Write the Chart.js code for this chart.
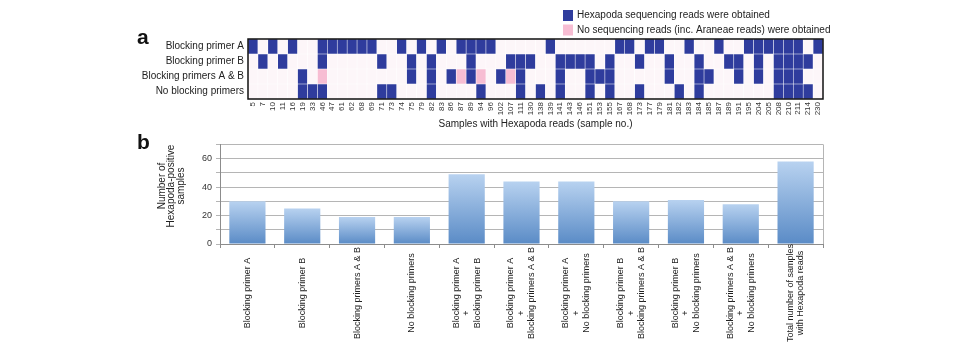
<!DOCTYPE html>
<html>
<head>
<meta charset="utf-8">
<script src="https://cdn.jsdelivr.net/npm/chart.js@4.4.1/dist/chart.umd.min.js"></script>
<style>
  html, body { margin: 0; padding: 0; background: #fff; }
  #wrap { position: relative; width: 967px; height: 356px; font-family: "Liberation Sans", Arial, sans-serif; }
  #heat_wrap { position: absolute; left: 0; top: 0; width: 967px; height: 135px; }
  #bar_wrap { position: absolute; left: 0; top: 135px; width: 967px; height: 221px; }
  .panel { position: absolute; left: 137px; font-weight: bold; font-size: 21px; line-height: 21px; color: #111; }
</style>
</head>
<body>
<div id="wrap">
  <div id="heat_wrap"><canvas id="heat_chart"></canvas></div>
  <div id="bar_wrap"><canvas id="bar_chart"></canvas></div>
  <div class="panel" style="top:26px">a</div>
  <div class="panel" style="top:131px">b</div>
</div>
<script>
var FONT = "'Liberation Sans', Arial, sans-serif";

// panel a: samples with Hexapoda reads (x axis)
var samples = [5, 7, 10, 11, 16, 19, 33, 46, 47, 61, 62, 68, 69, 71, 73, 74, 75, 79, 82, 83,
  86, 87, 89, 94, 96, 102, 107, 111, 130, 138, 139, 141, 143, 146, 151, 153, 155, 167, 168, 173,
  177, 179, 181, 182, 183, 184, 185, 187, 189, 191, 195, 204, 205, 208, 210, 211, 214, 230];
var row_labels = ["Blocking primer A", "Blocking primer B", "Blocking primers A & B", "No blocking primers"];

// samples where Hexapoda reads were obtained, per treatment
var hexa_primer_a = [5, 10, 16, 46, 47, 61, 62, 68, 69, 74, 79, 83, 87, 89, 94, 96, 139, 167, 168,
  177, 179, 183, 187, 195, 204, 205, 208, 210, 211, 230];
var hexa_primer_b = [7, 11, 46, 71, 75, 82, 89, 107, 111, 130, 141, 143, 146, 151, 155, 173, 181,
  184, 189, 191, 204, 208, 210, 211, 214];
var hexa_primer_ab = [19, 75, 82, 86, 89, 102, 111, 141, 151, 153, 155, 181, 184, 185, 191, 204,
  208, 210, 211];
var hexa_no_primer = [19, 33, 46, 71, 73, 82, 94, 111, 138, 141, 151, 155, 173, 182, 184, 208, 210,
  211, 214];

// samples where no reads at all were obtained (pink)
var noreads_primer_a = [];
var noreads_primer_b = [];
var noreads_primer_ab = [46, 87, 94, 107];
var noreads_no_primer = [];

// panel b
var bar_labels = [
  ["Blocking primer A"],
  ["Blocking primer B"],
  ["Blocking primers A & B"],
  ["No blocking primers"],
  ["Blocking primer A", "+", "Blocking primer B"],
  ["Blocking primer A", "+", "Blocking primers A & B"],
  ["Blocking primer A", "+", "No blocking primers"],
  ["Blocking primer B", "+", "Blocking primers A & B"],
  ["Blocking primer B", "+", "No blocking primers"],
  ["Blocking primers A & B", "+", "No blocking primers"],
  ["Total number of samples", "with Hexapoda reads"]
];
var bar_values = [30, 25, 19, 19, 49, 44, 44, 30, 31, 28, 58];
var y_title = ["Number of", "Hexapoda-positive", "samples"];

var BLUE = "#2f3c9d", PINK = "#f7bdd3", EMPTY = "#fdf6f9";

function cell_colors(hexa, none) {
  return samples.map(function (s) {
    if (hexa.indexOf(s) >= 0) return BLUE;
    if (none.indexOf(s) >= 0) return PINK;
    return EMPTY;
  });
}

var rows = [
  [hexa_primer_a, noreads_primer_a],
  [hexa_primer_b, noreads_primer_b],
  [hexa_primer_ab, noreads_primer_ab],
  [hexa_no_primer, noreads_no_primer]
];

// stacked bars, bottom row first
var heat_sets = [];
for (var r = rows.length - 1; r >= 0; r--) {
  heat_sets.push({
    label: row_labels[r],
    data: samples.map(function () { return 1; }),
    backgroundColor: cell_colors(rows[r][0], rows[r][1]),
    borderColor: "rgba(255,255,255,0.22)",
    borderWidth: 0.6,
    borderSkipped: false,
    barPercentage: 1,
    categoryPercentage: 1
  });
}

var heat_plugin = {
  id: "heat_extra",
  afterDraw: function (chart) {
    var c = chart.ctx, a = chart.chartArea;
    c.save();
    c.strokeStyle = "#111";
    c.lineWidth = 1.5;
    c.strokeRect(a.left, a.top, a.right - a.left, a.bottom - a.top);
    // legend
    c.fillStyle = BLUE;
    c.fillRect(563, 10, 10, 11);
    c.fillStyle = PINK;
    c.fillRect(563, 24.5, 10, 11);
    c.fillStyle = "#222";
    c.font = "10px " + FONT;
    c.textBaseline = "middle";
    c.textAlign = "left";
    c.fillText("Hexapoda sequencing reads were obtained", 577, 15.5);
    c.fillText("No sequencing reads (inc. Araneae reads) were obtained", 577, 30);
    c.restore();
  }
};

new Chart(document.getElementById("heat_chart").getContext("2d"), {
  type: "bar",
  data: { labels: samples.map(String), datasets: heat_sets },
  options: {
    responsive: true,
    maintainAspectRatio: false,
    animation: false,
    layout: { padding: { left: 140, right: 144, top: 39, bottom: 0 } },
    plugins: { legend: { display: false }, tooltip: { enabled: false } },
    scales: {
      x: {
        stacked: true,
        grid: { display: false, drawTicks: false },
        border: { display: false },
        ticks: {
          autoSkip: false, maxRotation: 90, minRotation: 90, padding: 3,
          color: "#333", font: { size: 8, family: FONT }
        },
        title: {
          display: true, text: "Samples with Hexapoda reads (sample no.)",
          color: "#222", font: { size: 10, family: FONT }, padding: { top: 0, bottom: 5 }
        },
        afterFit: function (s) { s.height = 36; }
      },
      y: {
        stacked: true, min: 0, max: 4,
        grid: { display: false, drawTicks: false },
        border: { display: false },
        afterBuildTicks: function (s) {
          s.ticks = [0.5, 1.5, 2.5, 3.5].map(function (v) { return { value: v }; });
        },
        ticks: {
          padding: 4, color: "#222", font: { size: 10, family: FONT },
          callback: function (v) { return row_labels[3 - Math.floor(v)]; }
        },
        afterFit: function (s) { s.width = 108; }
      }
    }
  },
  plugins: [heat_plugin]
});

var bar_plugin = {
  id: "bar_extra",
  afterDraw: function (chart) {
    var c = chart.ctx, a = chart.chartArea, xs = chart.scales.x;
    c.save();
    c.strokeStyle = "#b5b5b5";
    c.lineWidth = 1;
    c.beginPath();
    c.moveTo(a.right + 0.5, a.top);
    c.lineTo(a.right + 0.5, a.bottom);
    c.stroke();

    c.fillStyle = "#222";
    c.font = "9px " + FONT;
    c.textAlign = "center";
    c.textBaseline = "middle";
    bar_labels.forEach(function (lines, i) {
      var x = xs.getPixelForValue(i);
      lines.forEach(function (line, j) {
        var dx = (j - (lines.length - 1) / 2) * 10.5;
        var along = line === "+" ? -20 : 0;
        c.save();
        c.translate(x + dx, a.bottom + 49);
        c.rotate(-Math.PI / 2);
        c.fillText(line, along, 0);
        c.restore();
      });
    });

    c.font = "10px " + FONT;
    y_title.forEach(function (line, j) {
      c.save();
      c.translate(162 + j * 9.6, 51);
      c.rotate(-Math.PI / 2);
      c.fillText(line, 0, 0);
      c.restore();
    });
    c.restore();
  }
};

new Chart(document.getElementById("bar_chart").getContext("2d"), {
  type: "bar",
  data: {
    labels: bar_labels.map(function (l) { return l.join(" "); }),
    datasets: [{
      data: bar_values,
      barPercentage: 0.66,
      categoryPercentage: 1,
      backgroundColor: function (ctx) {
        var chart = ctx.chart;
        if (!chart.chartArea) return "#7fa7d8";
        var ys = chart.scales.y;
        var top = ys.getPixelForValue(ctx.raw), bottom = ys.getPixelForValue(0);
        var g = chart.ctx.createLinearGradient(0, top, 0, bottom);
        g.addColorStop(0, "#b8d2f0");
        g.addColorStop(1, "#5a8bc6");
        return g;
      }
    }]
  },
  options: {
    responsive: true,
    maintainAspectRatio: false,
    animation: false,
    layout: { padding: { left: 140, right: 144, top: 9, bottom: 0 } },
    plugins: { legend: { display: false }, tooltip: { enabled: false } },
    scales: {
      x: {
        grid: { drawOnChartArea: false, drawTicks: true, tickLength: 4, color: "#8c8c8c" },
        border: { color: "#8c8c8c" },
        ticks: { display: false },
        afterFit: function (s) { s.height = 112; }
      },
      y: {
        min: 0, max: 70,
        grid: { color: "#b5b5b5", tickLength: 4 },
        border: { color: "#8c8c8c" },
        ticks: {
          stepSize: 10, padding: 4, color: "#333", font: { size: 9, family: FONT },
          callback: function (v) { return v % 20 === 0 ? v : ""; }
        },
        afterFit: function (s) { s.width = 80; }
      }
    }
  },
  plugins: [bar_plugin]
});
</script>
</body>
</html>
